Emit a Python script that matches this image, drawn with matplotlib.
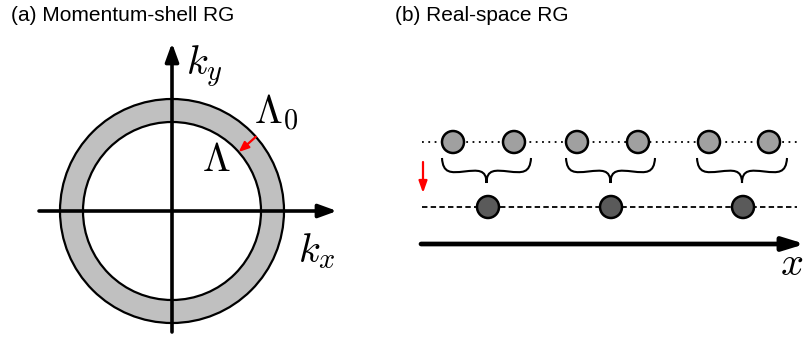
import matplotlib
matplotlib.use("Agg")
import matplotlib.pyplot as plt
from matplotlib.patches import Circle, PathPatch
from matplotlib.path import Path
import numpy as np

plt.rcParams['mathtext.fontset'] = 'cm'

# ---- Panel (a) geometry (pixel units) ----
center_a = (172, 211)
r_outer = 112
r_inner = 89
kx_axis = (39, 337)      # x-range of horizontal axis
ky_axis = (332, 43)      # y-range (bottom -> top) of vertical axis
shell_angle_deg = 41.5

# ---- Panel (b) geometry ----
fine_sites_x = [453, 514, 577, 638, 709, 769]
coarse_sites_x = [488, 611, 743]
fine_y = 142
coarse_y = 207
line_x = (422, 797)
brace_spans = [(442, 531), (566, 655), (697, 787)]
site_radius = 11

titles = ["(a) Momentum-shell RG", "(b) Real-space RG"]

fig = plt.figure(figsize=(8.05, 3.4), dpi=100)
ax = fig.add_axes([0, 0, 1, 1])
ax.set_xlim(0, 805)
ax.set_ylim(340, 0)
ax.set_aspect('equal')
ax.axis('off')

# titles
ax.text(11, 21, titles[0], fontsize=15, family='Liberation Sans', ha='left', va='baseline')
ax.text(395, 21, titles[1], fontsize=15, family='Liberation Sans', ha='left', va='baseline')

# ---- Panel (a) ----
cx, cy = center_a
ax.add_patch(Circle((cx, cy), r_outer, facecolor='#c0c0c0', edgecolor='black', lw=1.6, zorder=1))
ax.add_patch(Circle((cx, cy), r_inner, facecolor='white', edgecolor='black', lw=1.6, zorder=2))

arrow_kw = dict(arrowstyle='-|>,head_length=0.55,head_width=0.2', lw=2.6, color='black',
                shrinkA=0, shrinkB=0, mutation_scale=20)
ax.annotate('', xy=(kx_axis[1], cy), xytext=(kx_axis[0], cy), arrowprops=arrow_kw, zorder=3)
ax.annotate('', xy=(cx, ky_axis[1]), xytext=(cx, ky_axis[0]), arrowprops=arrow_kw, zorder=3)

th = np.deg2rad(shell_angle_deg)
p_out = (cx + r_outer * np.cos(th), cy - r_outer * np.sin(th))
p_in = (cx + r_inner * np.cos(th), cy - r_inner * np.sin(th))
ax.annotate('', xy=p_in, xytext=p_out,
            arrowprops=dict(arrowstyle='-|>,head_length=0.6,head_width=0.25', lw=1.6, color='red',
                            shrinkA=0, shrinkB=0, mutation_scale=10), zorder=4)

mfs = 29
ax.text(186, 75, r'$k_y$', fontsize=mfs, ha='left', va='baseline')
ax.text(298, 262, r'$k_x$', fontsize=mfs, ha='left', va='baseline')
ax.text(254, 124, r'$\Lambda_0$', fontsize=mfs, ha='left', va='baseline')
ax.text(202, 171, r'$\Lambda$', fontsize=mfs, ha='left', va='baseline')

# ---- Panel (b) ----
ax.plot(line_x, [fine_y, fine_y], color='black', lw=1.3, linestyle=(0, (1, 2.5)), zorder=1)
ax.plot(line_x, [coarse_y, coarse_y], color='black', lw=1.3, linestyle=(0, (3, 1.8)), zorder=1)

for x in fine_sites_x:
    ax.add_patch(Circle((x, fine_y), site_radius, facecolor='#a0a0a0', edgecolor='black', lw=1.8, zorder=3))
for x in coarse_sites_x:
    ax.add_patch(Circle((x, coarse_y), site_radius, facecolor='#5a5a5a', edgecolor='black', lw=1.8, zorder=3))


def brace(xl, xr, y0=158, y1=172, y2=183):
    xc = (xl + xr) / 2
    h = xc - xl
    verts = [
        (xl, y0),
        (xl + 0.02 * h, y1 + 1.5), (xl + 0.2 * h, y1 + 1), (xl + 0.5 * h, y1 - 0.5),
        (xl + 0.8 * h, y1 - 2), (xc, y1 - 3), (xc, y2),
        (xc, y1 - 3), (xr - 0.8 * h, y1 - 2), (xr - 0.5 * h, y1 - 0.5),
        (xr - 0.2 * h, y1 + 1), (xr - 0.02 * h, y1 + 1.5), (xr, y0),
    ]
    codes = [Path.MOVETO] + [Path.CURVE4] * 12
    return PathPatch(Path(verts, codes), facecolor='none', edgecolor='black', lw=1.5, zorder=2)


for xl, xr in brace_spans:
    ax.add_patch(brace(xl, xr))

ax.annotate('', xy=(423, 193), xytext=(423, 162),
            arrowprops=dict(arrowstyle='-|>,head_length=0.7,head_width=0.25', lw=1.6, color='red',
                            shrinkA=0, shrinkB=0, mutation_scale=10), zorder=4)

ax.annotate('', xy=(805, 244), xytext=(421, 244),
            arrowprops=dict(arrowstyle='-|>,head_length=0.65,head_width=0.2', lw=3.4, color='black',
                            shrinkA=0, shrinkB=0, mutation_scale=20), zorder=3)
ax.text(803, 275, r'$x$', fontsize=mfs, ha='right', va='baseline')

fig.savefig('out.png', dpi=100)
